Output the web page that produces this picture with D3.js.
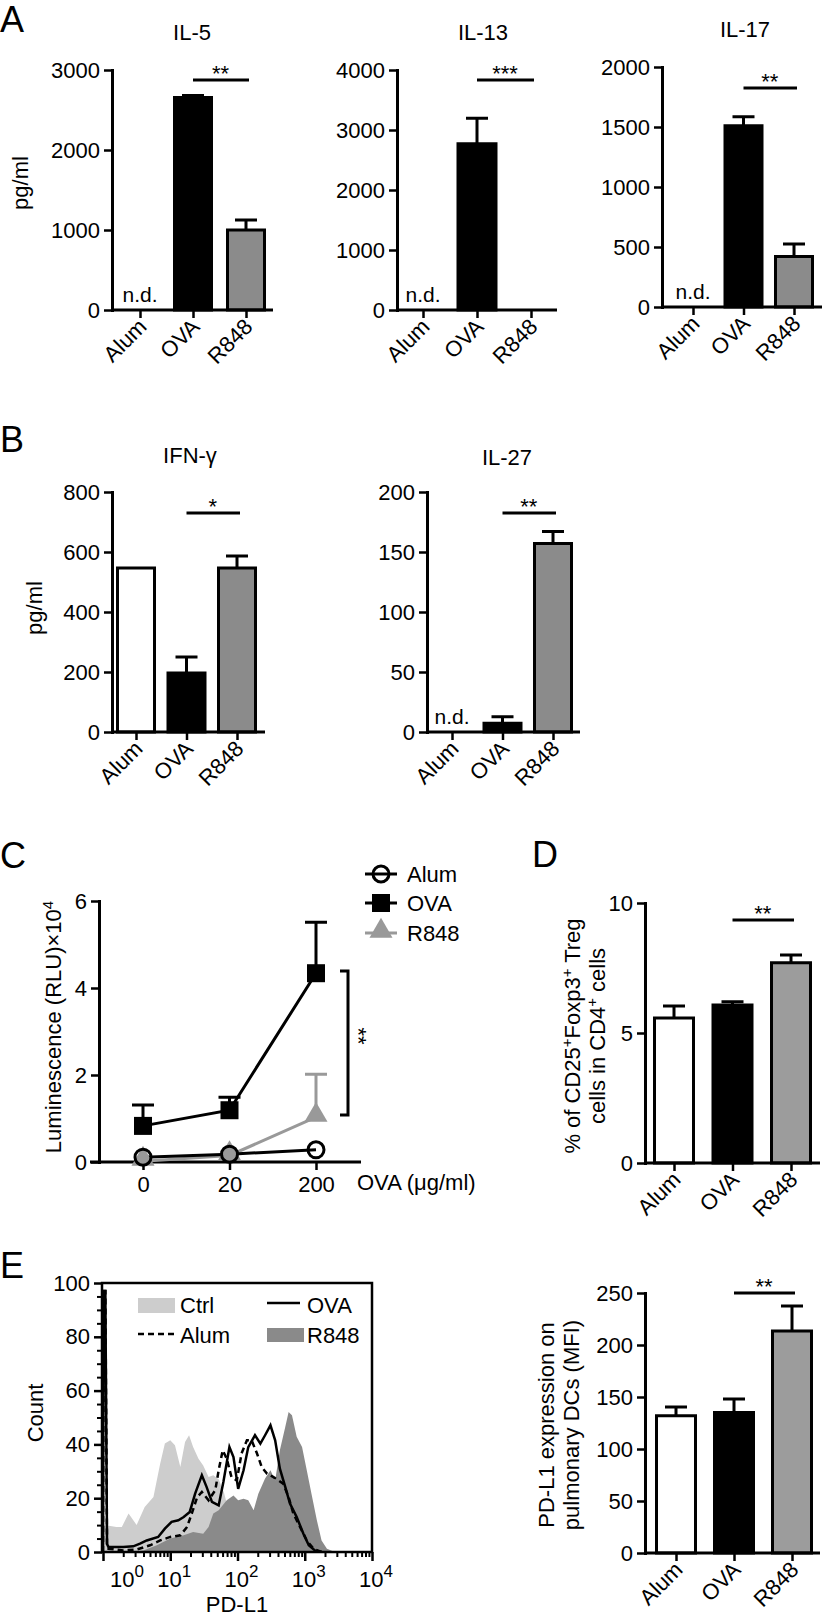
<!DOCTYPE html>
<html>
<head>
<meta charset="utf-8">
<style>
  body { margin: 0; background: #fff; }
  svg { display: block; }
  text { font-family: "Liberation Sans", Arial, Helvetica, sans-serif; fill: #000; }
</style>
</head>
<body>
<div id="fig"></div>
<script src="https://d3js.org/d3.v7.min.js"></script>
<script>
// ---- DATA ----
const groups = ['Alum', 'OVA', 'R848'];

// panel A (pg/ml)
const il5 = [0, 2655, 1000];
const il5Err = [0, 25, 125];
const il13 = [0, 2770, 0];
const il13Err = [0, 425, 0];
const il17 = [0, 1510, 420];
const il17Err = [0, 75, 105];

// panel B (pg/ml)
const ifng = [547, 197, 547];
const ifngErr = [0, 53, 40];
const il27 = [0, 7.2, 157];
const il27Err = [0, 5.6, 10];

// panel C luminescence (RLU x 10^4)
const doses = ['0', '20', '200'];
const lumAlum = [0.11, 0.18, 0.28];
const lumOva = [0.83, 1.19, 4.34];
const lumOvaErr = [0.48, 0.3, 1.17];
const lumR848 = [0.02, 0.15, 1.03];
const lumR848Err = [0, 0, 0.99];

// panel D (% Treg)
const treg = [5.58, 6.08, 7.7];
const tregErr = [0.46, 0.12, 0.3];

// panel E right (MFI)
const pdl1 = [132, 135, 213.5];
const pdl1Err = [8.5, 13, 24];

// panel E histogram: [log10 PD-L1, count]
const histCtrl = [[0, 0], [0.02, 10], [0.2, 9.3], [0.28, 9.3], [0.38, 14.3], [0.5, 10], [0.62, 16.7],
  [0.75, 20.4], [0.85, 32.8], [0.92, 40.3], [1.0, 41.5], [1.07, 39.7], [1.15, 31.6], [1.22, 40.9],
  [1.28, 43.4], [1.34, 39], [1.42, 34.7], [1.49, 32.2], [1.57, 27.9], [1.64, 28.5], [1.72, 27],
  [1.8, 22], [1.9, 12], [2.0, 5], [2.2, 1], [2.4, 0]];
const histR848 = [[0.4, 0], [0.6, 0.6], [0.8, 2.5], [1.0, 5], [1.2, 6.2], [1.34, 7.4], [1.49, 6.8],
  [1.57, 9.3], [1.64, 14.3], [1.72, 15.5], [1.84, 19.2], [1.94, 21], [2.01, 19.2], [2.09, 19.8],
  [2.16, 19.2], [2.24, 15.5], [2.31, 21.7], [2.41, 27.3], [2.49, 30.4], [2.56, 26.6], [2.63, 37.8],
  [2.71, 46.5], [2.76, 52], [2.81, 50.8], [2.88, 42.8], [2.96, 39], [3.03, 30.4], [3.1, 21.7],
  [3.18, 11.8], [3.25, 4.3], [3.33, 1.2], [3.43, 0.2], [3.5, 0]];
const histOva = [[0, 0], [0.01, 97], [0.035, 97], [0.06, 3], [0.08, 1.9], [0.3, 1.9], [0.45, 2.1],
  [0.55, 3.1], [0.65, 4.3], [0.82, 5.6], [0.92, 8.7], [1.02, 11.2], [1.12, 11.8], [1.2, 13],
  [1.29, 14.9], [1.37, 21.7], [1.47, 28.5], [1.54, 24.2], [1.62, 18.6], [1.72, 17.3], [1.79, 26],
  [1.88, 39], [1.94, 35.3], [2.01, 23.5], [2.09, 30.4], [2.16, 39], [2.26, 43.4], [2.34, 40.3],
  [2.41, 43.4], [2.49, 47.1], [2.56, 41.5], [2.63, 31], [2.71, 24.2], [2.78, 18], [2.88, 13],
  [2.98, 6.8], [3.06, 2.5], [3.15, 0.6], [3.25, 0]];
const histAlum = [[0, 0], [0.01, 97], [0.035, 97], [0.06, 2], [0.08, 1.2], [0.3, 0.6], [0.5, 0.9],
  [0.7, 2.5], [0.85, 4.3], [1.0, 5.6], [1.15, 6.2], [1.25, 9.3], [1.32, 14.3], [1.4, 20.4],
  [1.47, 22.3], [1.57, 19.2], [1.67, 23], [1.72, 30.4], [1.78, 37.8], [1.84, 34.7], [1.91, 27.9],
  [1.99, 26.6], [2.06, 36.6], [2.14, 41.5], [2.21, 41.5], [2.29, 36.6], [2.36, 31.6], [2.44, 29.1],
  [2.53, 27.9], [2.61, 26.6], [2.68, 25.4], [2.76, 20.4], [2.83, 14.3], [2.93, 9.3], [3.03, 4.3],
  [3.13, 1.2], [3.23, 0.2], [3.3, 0]];

// ---- DRAWING ----
const FONT = '"Liberation Sans", Arial, Helvetica, sans-serif';
const FS = 22;
const fillsDark = ['#fff', '#000', '#8b8b8b'];
const fillsLight = ['#fff', '#000', '#9c9c9c'];
const plain = d3.format('d');

const svg = d3.select('#fig').append('svg')
  .attr('width', 826)
  .attr('height', 1617);

svg.append('rect').attr('width', 826).attr('height', 1617).attr('fill', '#fff');

function styleAxis(g) {
  g.attr('font-size', FS).attr('font-family', FONT);
  g.select('.domain').attr('stroke-width', 3).attr('stroke-linecap', 'square');
  g.selectAll('.tick line').attr('stroke-width', 2.5);
  g.selectAll('.tick text').attr('fill', '#000');
}

function rotLabel(g, x, y, lines, size) {
  var t = g.append('text')
    .attr('transform', `translate(${x},${y}) rotate(-90)`)
    .attr('text-anchor', 'middle')
    .attr('font-size', size || FS);
  lines.forEach(function(parts, li) {
    parts.forEach(function(part, pi) {
      var s = t.append('tspan').text(part.t);
      if (pi === 0) s.attr('x', 0).attr('dy', li === 0 ? 0 : '1.15em');
      if (part.sup) s.attr('baseline-shift', 'super').attr('font-size', (size || FS) * 0.68);
    });
  });
  return t;
}

function letter(l, x, y) {
  svg.append('text').attr('x', x).attr('y', y).attr('font-size', 36).text(l);
}

function barPanel(p) {
  var g = svg.append('g');
  var y = d3.scaleLinear().domain([0, p.max]).range([p.zero, p.top]);
  var x = d3.scalePoint().domain(groups).range(p.centers);
  var bw = p.bw;

  // error bars, upper only
  g.selectAll('.err').data(groups).join('path')
    .attr('class', 'err')
    .attr('d', function(c, i) {
      if (!p.err[i]) return null;
      var cx = x(c), y0 = y(p.mean[i]), y1 = y(p.mean[i] + p.err[i]);
      return `M${cx},${y0}V${y1}M${cx - 11},${y1}H${cx + 11}`;
    })
    .attr('fill', 'none').attr('stroke', '#000').attr('stroke-width', 3);

  g.selectAll('.bar').data(groups).join('path')
    .attr('class', 'bar')
    .attr('d', function(c, i) {
      var x0 = x(c) - bw / 2;
      return `M${x0},${p.zero}V${y(p.mean[i])}H${x0 + bw}V${p.zero}Z`;
    })
    .attr('fill', (c, i) => p.fills[i])
    .attr('stroke', '#000')
    .attr('stroke-width', (c, i) => p.mean[i] ? 3 : 2);

  // n.d.
  groups.forEach(function(c, i) {
    if (p.nd && p.nd[i]) {
      g.append('text').attr('x', x(c)).attr('y', p.zero - 8)
        .attr('text-anchor', 'middle').attr('font-size', 21).text('n.d.');
    }
  });

  var ya = g.append('g')
    .attr('transform', `translate(${p.axisX},0)`)
    .call(d3.axisLeft(y).tickValues(p.ticks).tickFormat(plain).tickSize(8).tickPadding(4).tickSizeOuter(0));
  styleAxis(ya);

  var xa = g.append('g')
    .attr('transform', `translate(0,${p.zero})`)
    .call(d3.axisBottom(x).tickSize(8).tickFormat(''));
  xa.select('.domain').remove();
  xa.selectAll('.tick line').attr('stroke-width', 2.5);
  g.append('line')
    .attr('x1', p.axisX).attr('x2', p.xEnd)
    .attr('y1', p.zero).attr('y2', p.zero)
    .attr('stroke', '#000').attr('stroke-width', 3);

  g.selectAll('.cat').data(groups).join('text')
    .attr('class', 'cat')
    .attr('text-anchor', 'end')
    .attr('font-size', FS)
    .attr('transform', c => `translate(${x(c) + 8},${p.zero + 18}) rotate(-45)`)
    .text(c => c);

  // significance
  var sy = y(p.sigY);
  g.append('line')
    .attr('x1', x('OVA')).attr('x2', x('R848') + 3)
    .attr('y1', sy).attr('y2', sy)
    .attr('stroke', '#000').attr('stroke-width', 3);
  g.append('text')
    .attr('x', (x('OVA') + x('R848')) / 2 + 1).attr('y', sy + 1)
    .attr('text-anchor', 'middle').attr('font-size', FS)
    .text(p.sig);

  if (p.title) {
    g.append('text').attr('x', p.title[1]).attr('y', p.title[2])
      .attr('text-anchor', 'middle').attr('font-size', FS).text(p.title[0]);
  }
  return g;
}

// ---- A ----
letter('A', 0, 32);
barPanel({ title: ['IL-5', 192, 40], axisX: 112, top: 70, zero: 310, xEnd: 273,
  centers: [140, 246], bw: 37, max: 3000, ticks: [0, 1000, 2000, 3000],
  mean: il5, err: il5Err, nd: [1, 0, 0], fills: fillsDark, sigY: 2875, sig: '**' });
rotLabel(svg, 28, 183, [[{ t: 'pg/ml' }]]);
barPanel({ title: ['IL-13', 483, 40], axisX: 397, top: 70, zero: 310, xEnd: 557,
  centers: [423, 531], bw: 38, max: 4000, ticks: [0, 1000, 2000, 3000, 4000],
  mean: il13, err: il13Err, nd: [1, 0, 0], fills: fillsDark, sigY: 3833, sig: '***' });
barPanel({ title: ['IL-17', 745, 37], axisX: 662, top: 67, zero: 307, xEnd: 822,
  centers: [693, 794], bw: 37, max: 2000, ticks: [0, 500, 1000, 1500, 2000],
  mean: il17, err: il17Err, nd: [1, 0, 0], fills: fillsDark, sigY: 1825, sig: '**' });

// ---- B ----
letter('B', 0, 452);
barPanel({ title: ['IFN-γ', 190, 463], axisX: 112, top: 492, zero: 732, xEnd: 265,
  centers: [136, 237], bw: 37, max: 800, ticks: [0, 200, 400, 600, 800],
  mean: ifng, err: ifngErr, fills: fillsDark, sigY: 730, sig: '*' });
rotLabel(svg, 42, 608, [[{ t: 'pg/ml' }]]);
barPanel({ title: ['IL-27', 507, 465], axisX: 427, top: 492, zero: 732, xEnd: 580,
  centers: [452, 553], bw: 37, max: 200, ticks: [0, 50, 100, 150, 200],
  mean: il27, err: il27Err, nd: [1, 0, 0], fills: fillsDark, sigY: 182.5, sig: '**' });

// ---- C ----
letter('C', 0, 868);
(function() {
  var g = svg.append('g');
  var x = d3.scalePoint().domain(doses).range([143, 316]);
  var y = d3.scaleLinear().domain([0, 6]).range([1162, 901]);

  var ya = g.append('g').attr('transform', 'translate(99,0)')
    .call(d3.axisLeft(y).tickValues([0, 2, 4, 6]).tickFormat(plain).tickSize(8).tickPadding(4).tickSizeOuter(0));
  styleAxis(ya);
  var xa = g.append('g').attr('transform', 'translate(0,1162)')
    .call(d3.axisBottom(x).tickSize(8).tickPadding(6));
  xa.select('.domain').remove();
  styleAxis(xa);
  g.append('line').attr('x1', 90).attr('x2', 361).attr('y1', 1162).attr('y2', 1162)
    .attr('stroke', '#000').attr('stroke-width', 3);
  g.append('text').attr('x', 357).attr('y', 1190).attr('font-size', FS).text('OVA (μg/ml)');

  rotLabel(g, 61, 1027, [[{ t: 'Luminescence (RLU)×10' }, { t: '4', sup: true }]]);

  var line = d3.line().x((d, i) => x(doses[i])).y(d => y(d));

  function errs(vals, ev, color) {
    g.append('g').selectAll('path').data(vals).join('path')
      .attr('d', function(v, i) {
        if (!ev[i]) return null;
        var cx = x(doses[i]), y1 = y(v + ev[i]);
        return `M${cx},${y(v)}V${y1}M${cx - 11},${y1}H${cx + 11}`;
      })
      .attr('fill', 'none').attr('stroke', color).attr('stroke-width', 3);
  }
  errs(lumOva, lumOvaErr, '#000');
  errs(lumR848, lumR848Err, '#999');

  g.append('path').attr('d', line(lumOva)).attr('fill', 'none').attr('stroke', '#000').attr('stroke-width', 3);
  g.append('path').attr('d', line(lumR848)).attr('fill', 'none').attr('stroke', '#999').attr('stroke-width', 3);
  g.append('path').attr('d', line(lumAlum)).attr('fill', 'none').attr('stroke', '#000').attr('stroke-width', 3);

  var tri = d3.symbol(d3.symbolTriangle, 230);
  g.selectAll('.tri').data(lumR848).join('path')
    .attr('d', tri)
    .attr('transform', (d, i) => `translate(${x(doses[i])},${y(d) - 2})`)
    .attr('fill', '#999');
  g.selectAll('.sq').data(lumOva).join('rect')
    .attr('x', (d, i) => x(doses[i]) - 9).attr('y', d => y(d) - 9)
    .attr('width', 18).attr('height', 18).attr('fill', '#000');
  g.selectAll('.circ').data(lumAlum).join('circle')
    .attr('cx', (d, i) => x(doses[i])).attr('cy', d => y(d))
    .attr('r', 8).attr('fill', 'none').attr('stroke', '#000').attr('stroke-width', 3);

  // bracket
  g.append('path').attr('d', 'M340,971H348V1115H340')
    .attr('fill', 'none').attr('stroke', '#000').attr('stroke-width', 3);
  g.append('text').attr('transform', 'translate(351,1036) rotate(90)')
    .attr('text-anchor', 'middle').attr('font-size', FS).text('**');

  // legend
  var leg = [
    { name: 'Alum', y: 874, color: '#000' },
    { name: 'OVA', y: 903, color: '#000' },
    { name: 'R848', y: 933, color: '#999' }
  ];
  leg.forEach(function(l) {
    g.append('line').attr('x1', 365).attr('x2', 397).attr('y1', l.y).attr('y2', l.y)
      .attr('stroke', l.color).attr('stroke-width', 3);
    if (l.name === 'Alum') {
      g.append('circle').attr('cx', 381).attr('cy', l.y).attr('r', 8)
        .attr('fill', 'none').attr('stroke', '#000').attr('stroke-width', 3);
    } else if (l.name === 'OVA') {
      g.append('rect').attr('x', 372).attr('y', l.y - 9).attr('width', 18).attr('height', 18).attr('fill', '#000');
    } else {
      g.append('path').attr('d', tri).attr('transform', `translate(381,${l.y - 2})`).attr('fill', '#999');
    }
    g.append('text').attr('x', 407).attr('y', l.y + 8).attr('font-size', FS).text(l.name);
  });
})();

// ---- D ----
letter('D', 532, 867);
barPanel({ axisX: 645, top: 903, zero: 1163, xEnd: 820,
  centers: [674, 791], bw: 39, max: 10, ticks: [0, 5, 10],
  mean: treg, err: tregErr, fills: fillsLight, sigY: 9.35, sig: '**' });
rotLabel(svg, 580, 1036, [
  [{ t: '% of CD25' }, { t: '+', sup: true }, { t: 'Foxp3' }, { t: '+', sup: true }, { t: ' Treg' }],
  [{ t: 'cells in CD4' }, { t: '+', sup: true }, { t: ' cells' }]
]);

// ---- E ----
letter('E', 0, 1278);
barPanel({ axisX: 645, top: 1293, zero: 1553, xEnd: 820,
  centers: [676, 792], bw: 39, max: 250, ticks: [0, 50, 100, 150, 200, 250],
  mean: pdl1, err: pdl1Err, fills: fillsLight, sigY: 250, sig: '**' });
rotLabel(svg, 554, 1425, [[{ t: 'PD-L1 expression on' }], [{ t: 'pulmonary DCs (MFI)' }]]);

(function() {
  var g = svg.append('g');
  var x = d3.scaleLog().domain([1, 1e4]).range([103, 372]);
  var y = d3.scaleLinear().domain([0, 100]).range([1552, 1283]);

  svg.append('clipPath').attr('id', 'hclip')
    .append('rect').attr('x', 102).attr('y', 1283).attr('width', 270).attr('height', 269);

  var area = d3.area()
    .x(d => x(Math.pow(10, d[0])))
    .y0(y(0))
    .y1(d => y(d[1]));
  var line = d3.line()
    .x(d => x(Math.pow(10, d[0])))
    .y(d => y(d[1]));

  var plot = g.append('g').attr('clip-path', 'url(#hclip)');
  plot.append('path').attr('d', area(histCtrl)).attr('fill', '#cdcdcd');
  plot.append('path').attr('d', area(histR848)).attr('fill', '#8a8a8a');
  plot.append('path').attr('d', line(histAlum)).attr('fill', 'none')
    .attr('stroke', '#000').attr('stroke-width', 2.5).attr('stroke-dasharray', '6,4');
  plot.append('path').attr('d', line(histOva)).attr('fill', 'none')
    .attr('stroke', '#000').attr('stroke-width', 2.5);

  g.append('rect').attr('x', 102).attr('y', 1283).attr('width', 270).attr('height', 269)
    .attr('fill', 'none').attr('stroke', '#000').attr('stroke-width', 2.5);

  // y axis
  var ya = g.append('g').attr('transform', 'translate(102,0)')
    .call(d3.axisLeft(y).tickValues([0, 20, 40, 60, 80, 100]).tickSize(8).tickPadding(4).tickSizeOuter(0));
  styleAxis(ya);
  ya.select('.domain').remove();
  var ym = g.append('g').attr('transform', 'translate(102,0)')
    .call(d3.axisLeft(y).tickValues(d3.range(0, 101, 5).filter(v => v % 20)).tickSize(5).tickFormat('').tickSizeOuter(0));
  ym.select('.domain').remove();
  ym.selectAll('.tick line').attr('stroke-width', 2);

  // x axis, log
  var majors = [1, 10, 100, 1000, 10000];
  var minors = [];
  [1, 10, 100, 1000].forEach(function(d) {
    for (var m = 2; m <= 9; m++) minors.push(d * m);
  });
  var xa = g.append('g').attr('transform', 'translate(0,1552)')
    .call(d3.axisBottom(x).tickValues(majors).tickSize(9).tickFormat(''));
  xa.select('.domain').remove();
  xa.selectAll('.tick line').attr('stroke-width', 2.5);
  var xm = g.append('g').attr('transform', 'translate(0,1552)')
    .call(d3.axisBottom(x).tickValues(minors).tickSize(5).tickFormat(''));
  xm.select('.domain').remove();
  xm.selectAll('.tick line').attr('stroke-width', 2);

  majors.forEach(function(v, i) {
    var t = g.append('text')
      .attr('x', x(v) + (i === 0 ? 24 : 4)).attr('y', 1587)
      .attr('text-anchor', 'middle').attr('font-size', FS);
    t.append('tspan').text('10');
    t.append('tspan').attr('dy', -10).attr('font-size', 17).text(i);
  });

  g.append('text').attr('x', 237).attr('y', 1612).attr('text-anchor', 'middle')
    .attr('font-size', FS).text('PD-L1');
  rotLabel(g, 43, 1413, [[{ t: 'Count' }]]);

  // legend
  g.append('rect').attr('x', 138).attr('y', 1298).attr('width', 37).attr('height', 15).attr('fill', '#cdcdcd');
  g.append('text').attr('x', 180).attr('y', 1313).attr('font-size', FS).text('Ctrl');
  g.append('line').attr('x1', 138).attr('x2', 175).attr('y1', 1334).attr('y2', 1334)
    .attr('stroke', '#000').attr('stroke-width', 2.5).attr('stroke-dasharray', '6,4');
  g.append('text').attr('x', 180).attr('y', 1343).attr('font-size', FS).text('Alum');
  g.append('line').attr('x1', 267).attr('x2', 300).attr('y1', 1303).attr('y2', 1303)
    .attr('stroke', '#000').attr('stroke-width', 2.5);
  g.append('text').attr('x', 307).attr('y', 1313).attr('font-size', FS).text('OVA');
  g.append('rect').attr('x', 267).attr('y', 1328).attr('width', 37).attr('height', 14).attr('fill', '#8a8a8a');
  g.append('text').attr('x', 307).attr('y', 1343).attr('font-size', FS).text('R848');
})();
</script>
</body>
</html>
